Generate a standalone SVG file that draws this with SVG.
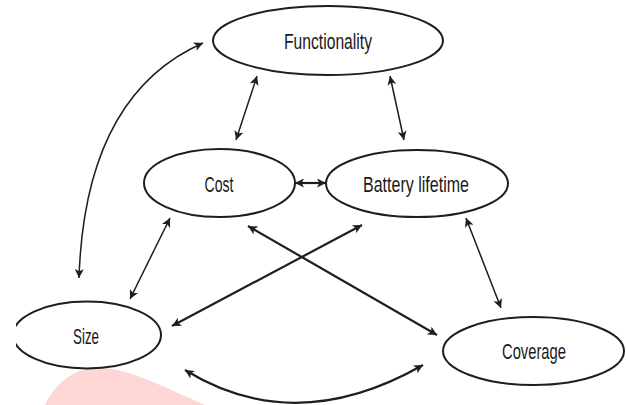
<svg xmlns="http://www.w3.org/2000/svg" width="626" height="405" viewBox="0 0 626 405">
  <style>
    .node ellipse { fill: #ffffff; stroke: #1e1e1e; stroke-width: 2; }
    .node text { font-family: "Liberation Sans", Arial, sans-serif; font-size: 22px; fill: #1a1a1a; text-anchor: middle; }
    .edge { fill: none; stroke: #1e1e1e; stroke-width: 1.5; marker-start: url(#head); marker-end: url(#head); }
    .edge.thick { stroke-width: 2.2; }
  </style>
  <defs>
    <marker id="head" viewBox="0 0 10 10" refX="10" refY="5" markerUnits="userSpaceOnUse" markerWidth="10" markerHeight="9" orient="auto-start-reverse">
      <path d="M0,0 L10,5 L0,10 L2.5,5 Z" fill="#1e1e1e"/>
    </marker>
    <clipPath id="pageLeft">
      <rect x="16" y="0" width="610" height="405"/>
    </clipPath>
  </defs>

  <rect width="626" height="405" fill="#ffffff"/>

  <!-- faint red stamp at the lower left -->
  <path d="M45,405 C55,385 70,370 95,368 C125,366 165,388 205,405 Z" fill="#ffd6d6"/>

  <g id="connectors">
    <path class="edge" d="M79,278 Q85,95 203,43"/>
    <path class="edge" d="M236,140 L257,76"/>
    <path class="edge" d="M404,140 L390,76"/>
    <path class="edge thick" d="M295,183 L326,183"/>
    <path class="edge" d="M130,299 L170,218"/>
    <path class="edge thick" d="M172,326 L362,225"/>
    <path class="edge thick" d="M248,226 L437,335"/>
    <path class="edge" d="M466,218 L501,308"/>
    <path class="edge thick" d="M185,370 Q295,438 423,365"/>
  </g>

  <g id="functionality" class="node">
    <ellipse cx="328" cy="40.5" rx="115" ry="34.5"/>
    <text x="328" y="49" textLength="88" lengthAdjust="spacingAndGlyphs">Functionality</text>
  </g>

  <g id="cost" class="node">
    <ellipse cx="219.5" cy="183" rx="75.5" ry="34"/>
    <text x="219" y="192" textLength="29" lengthAdjust="spacingAndGlyphs">Cost</text>
  </g>

  <g id="battery-lifetime" class="node">
    <ellipse cx="417" cy="183.5" rx="91" ry="33.5"/>
    <text x="416" y="192" textLength="106" lengthAdjust="spacingAndGlyphs">Battery lifetime</text>
  </g>

  <g id="size" class="node" clip-path="url(#pageLeft)">
    <ellipse cx="87" cy="335" rx="74" ry="33.5"/>
    <text x="86" y="344" textLength="26" lengthAdjust="spacingAndGlyphs">Size</text>
  </g>

  <g id="coverage" class="node">
    <ellipse cx="533.5" cy="351" rx="90.5" ry="34"/>
    <text x="534" y="359" textLength="64" lengthAdjust="spacingAndGlyphs">Coverage</text>
  </g>
</svg>
